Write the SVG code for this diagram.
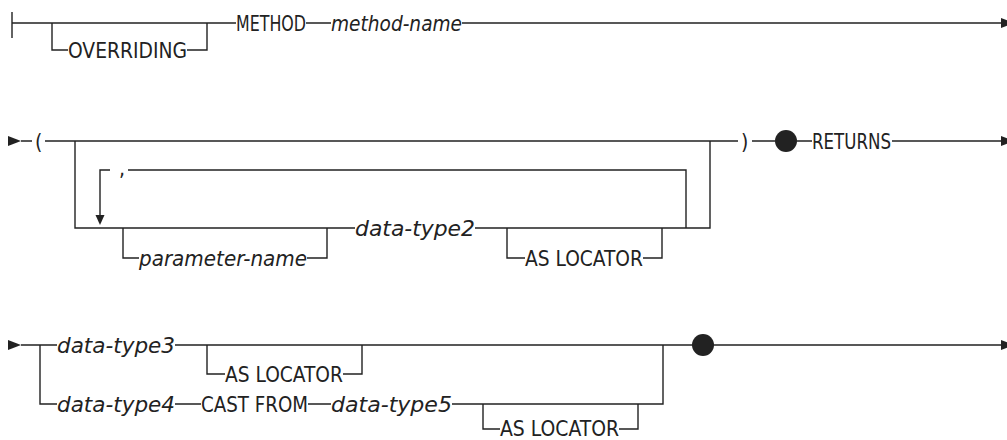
<svg xmlns="http://www.w3.org/2000/svg" xmlns:xlink="http://www.w3.org/1999/xlink" width="1007" height="440" viewBox="0 0 1007 440">
<style>
.t{font-family:"DejaVu Sans","Liberation Sans",sans-serif;font-stretch:condensed;font-size:21px;fill:#222}
.i{font-style:italic}
.l{fill:none;stroke:#222;stroke-width:1.4}
.a{fill:#222}
</style>
<defs>
<path id="arr" class="a" d="M0,-5 L13,0 L0,5 Z"/>
<path id="arrD" class="a" d="M-4.5,0 L4.5,0 L0,10 Z"/>
</defs>
<rect width="1007" height="440" fill="#fff"/>
<g id="connectors">
<path class="l" d="M12,12 V38 M12,23 H236 M306,23 H331 M462,23 H1001"/>
<path class="l" d="M52,23 V50 H68 M187,50 H207 V23"/>
<use xlink:href="#arr" x="1001" y="23"/>
<use xlink:href="#arr" x="8" y="141"/>
<path class="l" d="M21,141 H32 M45,141 H738 M752,141 H775 M797,141 H812 M892,141 H1001"/>
<path class="l" d="M75,141 V228 H355 M475,228 H710 V141"/>
<path class="l" d="M686,228 V170 H128 M110,170 H100 V215"/>
<use xlink:href="#arrD" x="100" y="215"/>
<path class="l" d="M123,228 V258 H139 M307,258 H327 V228"/>
<path class="l" d="M507,228 V258 H525 M643,258 H662 V228"/>
<use xlink:href="#arr" x="1001" y="141"/>
<use xlink:href="#arr" x="8" y="345"/>
<path class="l" d="M21,345 H57 M175,345 H1001"/>
<path class="l" d="M207,345 V374 H225 M343,374 H362 V345"/>
<path class="l" d="M40,345 V404 H57 M175,404 H201 M308,404 H331 M452,404 H663 V345"/>
<path class="l" d="M483,404 V429 H500 M619,429 H638 V404"/>
<use xlink:href="#arr" x="1001" y="345"/>
</g>
<g id="dot1"><circle class="a" cx="786" cy="141" r="11"/></g>
<g id="dot2"><circle class="a" cx="703" cy="345" r="11"/></g>
<g id="overriding"><text class="t" x="68" y="57.5" textLength="119" lengthAdjust="spacingAndGlyphs">OVERRIDING</text></g>
<g id="method"><text class="t" x="236" y="30.5" textLength="70" lengthAdjust="spacingAndGlyphs">METHOD</text></g>
<g id="method-name"><text class="t i" x="331" y="30.5" textLength="131" lengthAdjust="spacingAndGlyphs">method-name</text></g>
<g id="lparen"><text class="t" x="35" y="148.5">(</text></g>
<g id="rparen"><text class="t" x="741" y="148.5">)</text></g>
<g id="returns"><text class="t" x="812" y="148.5" textLength="79" lengthAdjust="spacingAndGlyphs">RETURNS</text></g>
<g id="comma"><text class="t" x="119" y="176">,</text></g>
<g id="parameter-name"><text class="t i" x="139" y="265.5" textLength="168" lengthAdjust="spacingAndGlyphs">parameter-name</text></g>
<g id="data-type2"><text class="t i" x="355" y="235.5" textLength="120" lengthAdjust="spacingAndGlyphs">data-type2</text></g>
<g id="as-locator1"><text class="t" x="525" y="265.5" textLength="118" lengthAdjust="spacingAndGlyphs">AS LOCATOR</text></g>
<g id="data-type3"><text class="t i" x="57" y="352.5" textLength="118" lengthAdjust="spacingAndGlyphs">data-type3</text></g>
<g id="as-locator2"><text class="t" x="225" y="381.5" textLength="118" lengthAdjust="spacingAndGlyphs">AS LOCATOR</text></g>
<g id="data-type4"><text class="t i" x="57" y="411.5" textLength="118" lengthAdjust="spacingAndGlyphs">data-type4</text></g>
<g id="cast-from"><text class="t" x="201" y="411.5" textLength="107" lengthAdjust="spacingAndGlyphs">CAST FROM</text></g>
<g id="data-type5"><text class="t i" x="331" y="411.5" textLength="121" lengthAdjust="spacingAndGlyphs">data-type5</text></g>
<g id="as-locator3"><text class="t" x="500" y="435.5" textLength="119" lengthAdjust="spacingAndGlyphs">AS LOCATOR</text></g>
</svg>
